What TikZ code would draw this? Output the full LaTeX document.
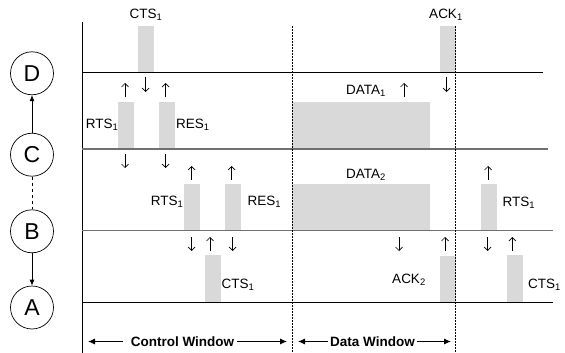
\documentclass[tikz,border=0pt]{standalone}
\usepackage{fontspec}
\setmainfont{Liberation Sans}
\usetikzlibrary{arrows.meta}
\definecolor{barfill}{HTML}{D9D9D9}
\definecolor{midline}{HTML}{707070}
\tikzset{
  node circ/.style={circle, draw, line width=0.7pt, minimum size=43pt, inner sep=0pt, font=\fontsize{23}{27}\selectfont},
  lbl/.style={inner sep=0pt, font=\fontsize{13.5}{16}\selectfont},
  bigl/.style={inner sep=0pt, font=\fontsize{13.5}{16}\selectfont\bfseries},
  bar/.style={fill=barfill, draw=none},
  tick/.style={line width=0.7pt, -{Straight Barb[length=3.5pt,width=7pt]}},
  flowarrow/.style={line width=0.7pt, -{Latex[length=6pt,width=5pt]}},
  winarrow/.style={line width=0.9pt, -{Latex[length=7pt,width=6pt]}},
  blackline/.style={line width=0.8pt},
  grayline/.style={line width=1.3pt, draw=midline},
  window/.style={line width=0.7pt, dash pattern=on 2pt off 1pt}
}
\begin{document}
\begin{tikzpicture}[x=1pt,y=-1pt]
\useasboundingbox (0,0) rectangle (565,353);
% left graph
\node[node circ] (D) at (32,73.3) {D};
\node[node circ] (C) at (32,154.7) {C};
\node[node circ] (B) at (32,231.3) {B};
\node[node circ] (A) at (32,307.5) {A};
\draw[flowarrow] (C) -- (D);
\draw[line width=0.7pt, dashed] (C) -- (B);
\draw[flowarrow] (B) -- (A);
% bars
\path[bar] (138,26) rectangle (154,72);
\path[bar] (440,26) rectangle (456,72);
\path[bar] (118,102) rectangle (134,149);
\path[bar] (159,102) rectangle (175,149);
\path[bar] (292,102) rectangle (430,149);
\path[bar] (184,184) rectangle (200,230.7);
\path[bar] (225,184) rectangle (241,230.7);
\path[bar] (292,184) rectangle (430,230.7);
\path[bar] (481,184) rectangle (497,230.7);
\path[bar] (205,255) rectangle (221,302);
\path[bar] (440,256) rectangle (456,302);
\path[bar] (507,255) rectangle (523,302);
% axis and station lines
\draw[blackline] (82.3,22) -- (82.3,353);
\draw[blackline] (82.3,72) -- (543,72);
\draw[grayline] (82.3,149) -- (548,149);
\draw[grayline] (82.3,230.7) -- (553,230.7);
\draw[blackline] (82.3,302) -- (553,302);
% window separators
\draw[window] (292.3,26) -- (292.3,353);
\draw[window] (455.7,26) -- (455.7,353);
% labels
\node[lbl] (ctsA) at (146,15) {CTS\textsubscript{1}};
\node[lbl] (ack1) at (446,15) {ACK\textsubscript{1}};
\node[lbl, anchor=east] (rtsA) at (118.5,125) {RTS\textsubscript{1}};
\node[lbl, anchor=west] (resA) at (176,125) {RES\textsubscript{1}};
\node[lbl] (data1) at (366,91) {DATA\textsubscript{1}};
\node[lbl] (data2) at (366,175) {DATA\textsubscript{2}};
\node[lbl, anchor=east] (rtsB) at (183.5,202) {RTS\textsubscript{1}};
\node[lbl, anchor=west] (resB) at (247.5,202) {RES\textsubscript{1}};
\node[lbl, anchor=west] (rtsC) at (502.5,203) {RTS\textsubscript{1}};
\node[lbl, anchor=west] (ctsB) at (221.5,285) {CTS\textsubscript{1}};
\node[lbl] (ack2) at (409,280) {ACK\textsubscript{2}};
\node[lbl, anchor=west] (ctsC) at (528,285) {CTS\textsubscript{1}};
% small direction arrows
\draw[tick] (125,97) -- (125,83);
\draw[tick] (145.7,77) -- (145.7,92);
\draw[tick] (165.7,97) -- (165.7,83);
\draw[tick] (404,97) -- (404,83);
\draw[tick] (446.7,77) -- (446.7,92);
\draw[tick] (125,153.5) -- (125,168);
\draw[tick] (165.7,153.5) -- (165.7,168);
\draw[tick] (191.7,180) -- (191.7,166);
\draw[tick] (231.7,180) -- (231.7,166);
\draw[tick] (488,180) -- (488,166);
\draw[tick] (191.7,237) -- (191.7,251);
\draw[tick] (210,251) -- (210,237);
\draw[tick] (232.7,237) -- (232.7,251);
\draw[tick] (399,237) -- (399,251);
\draw[tick] (445,251) -- (445,237);
\draw[tick] (487.7,237) -- (487.7,251);
\draw[tick] (512.3,251) -- (512.3,237);
% windows
\node[bigl] (cw) at (182.5,341.5) {Control Window};
\coordinate (cwl) at (88,341.5);
\coordinate (cwr) at (287,341.5);
\draw[winarrow] ([xshift=-8pt]cw.west) -- (cwl);
\draw[winarrow] ([xshift=3pt]cw.east) -- (cwr);
\node[bigl] (dw) at (372.5,341.5) {Data Window};
\coordinate (dwl) at (298,341.5);
\coordinate (dwr) at (451,341.5);
\draw[winarrow] ([xshift=-1.5pt]dw.west) -- (dwl);
\draw[winarrow] ([xshift=1.5pt]dw.east) -- (dwr);
\end{tikzpicture}
\end{document}
